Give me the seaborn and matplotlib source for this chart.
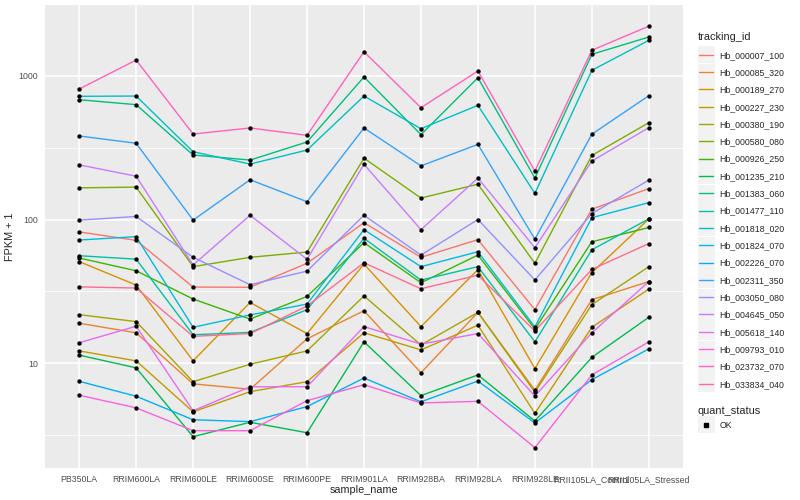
import matplotlib
matplotlib.use("Agg")
import matplotlib.pyplot as plt
from matplotlib.lines import Line2D
from matplotlib.patches import Rectangle
from matplotlib.legend_handler import HandlerBase
from matplotlib.ticker import FixedLocator, NullFormatter
import pandas as pd
import seaborn as sns

# ---------------------------------------------------------
# Data (FPKM + 1)
# ---------------------------------------------------------
samples = ['PB350LA', 'RRIM600LA', 'RRIM600LE', 'RRIM600SE', 'RRIM600PE',
           'RRIM901LA', 'RRIM928BA', 'RRIM928LA', 'RRIM928LE',
           'RRII105LA_Control', 'RRII105LA_Stressed']

tracking_ids = ['Hb_000007_100', 'Hb_000085_320', 'Hb_000189_270', 'Hb_000227_230',
                'Hb_000380_190', 'Hb_000580_080', 'Hb_000926_250', 'Hb_001235_210',
                'Hb_001383_060', 'Hb_001477_110', 'Hb_001818_020', 'Hb_001824_070',
                'Hb_002226_070', 'Hb_002311_350', 'Hb_003050_080', 'Hb_004645_050',
                'Hb_005618_140', 'Hb_009793_010', 'Hb_023732_070', 'Hb_033834_040']

hb_000007_100 = [82, 71.6, 33.9, 33.8, 49.6, 95, 54.6, 72.4, 23.6, 118, 164]
hb_000085_320 = [19, 16.3, 7.2, 6.6, 14.8, 23.2, 8.6, 22.6, 6.5, 27.7, 37]
hb_000189_270 = [51, 35, 10.4, 26.5, 16.1, 49, 18, 44.8, 9.2, 42.7, 101]
hb_000227_230 = [12.2, 10.4, 4.6, 6.35, 7.45, 16.3, 12.4, 18.4, 4.49, 17.8, 32.8]
hb_000380_190 = [21.8, 19.5, 7.45, 9.85, 12.2, 29.4, 13.4, 22.6, 6.3, 25.6, 47]
hb_000580_080 = [166, 168, 47, 54.6, 59.4, 267, 141, 176, 49.6, 279, 471]
hb_000926_250 = [54, 44, 28, 20.3, 29.2, 69, 36.3, 56.6, 17.3, 70, 88]
hb_001235_210 = [11.4, 9.3, 3.09, 3.89, 3.29, 14.1, 5.96, 8.3, 3.97, 11, 20.9]
hb_001383_060 = [681, 629, 281, 259, 346, 980, 389, 968, 194, 1409, 1857]
hb_001477_110 = [56, 53, 15.8, 16.4, 23.6, 74, 37.9, 47, 14.1, 61.6, 101]
hb_001818_020 = [719, 722, 296, 243, 304, 722, 428, 622, 152, 1090, 1762]
hb_001824_070 = [72, 76, 17.8, 21.7, 25.8, 85, 47, 59.7, 17.9, 103, 131]
hb_002226_070 = [7.5, 5.9, 4.05, 3.93, 5.0, 7.9, 5.4, 7.53, 3.85, 7.7, 12.6]
hb_002311_350 = [381, 339, 99, 189, 133, 433, 236, 333, 73, 392, 726]
hb_003050_080 = [99, 105, 54.6, 35.2, 43.8, 107, 56.6, 100, 38, 110, 188]
hb_004645_050 = [240, 200, 48.3, 107, 52.9, 242, 85, 194, 63.7, 255, 435]
hb_005618_140 = [13.9, 18.1, 4.68, 6.87, 6.87, 18, 13.6, 16.1, 5.93, 16.3, 37]
hb_009793_010 = [6.0, 4.9, 3.4, 3.4, 5.5, 7.1, 5.3, 5.44, 2.59, 8.3, 14.1]
hb_023732_070 = [808, 1285, 393, 433, 385, 1468, 599, 1078, 217, 1503, 2210]
hb_033834_040 = [34, 33.4, 15.4, 16.1, 25, 50, 33, 41, 16.8, 45, 68]

series_values = [hb_000007_100, hb_000085_320, hb_000189_270, hb_000227_230,
                 hb_000380_190, hb_000580_080, hb_000926_250, hb_001235_210,
                 hb_001383_060, hb_001477_110, hb_001818_020, hb_001824_070,
                 hb_002226_070, hb_002311_350, hb_003050_080, hb_004645_050,
                 hb_005618_140, hb_009793_010, hb_023732_070, hb_033834_040]

# ggplot2 default hue palette for 20 levels
palette = ['#F8766D', '#EA8331', '#D89000', '#C09B00', '#A3A500', '#7CAE00',
           '#39B600', '#00BB4E', '#00BF7D', '#00C1A3', '#00BFC4', '#00BAE0',
           '#00B0F6', '#35A2FF', '#9590FF', '#C77CFF', '#E76BF3', '#FA62DB',
           '#FF62BC', '#FF6C91']

rows = []
for tid, vals in zip(tracking_ids, series_values):
    for i, (s, v) in enumerate(zip(samples, vals)):
        rows.append({'tracking_id': tid, 'sample_name': s, 'pos': i,
                     'fpkm1': v, 'quant_status': 'OK'})
df = pd.DataFrame(rows)


# legend key with the grey ggplot box behind it
class KeyHandler(HandlerBase):
    def create_artists(self, legend, orig_handle, xdescent, ydescent,
                       width, height, fontsize, trans):
        cy = height / 2 - ydescent
        x0 = -xdescent
        box = Rectangle((x0, cy - width / 2), width, width,
                        facecolor='#F2F2F2', edgecolor='none', transform=trans)
        if orig_handle.get_marker() not in (None, '', 'None'):
            key = Line2D([x0 + width / 2], [cy], marker='s', linestyle='',
                         color='black', markersize=2.5, transform=trans)
        else:
            key = Line2D([x0 + 1, x0 + width - 1], [cy, cy],
                         color=orig_handle.get_color(), linewidth=1.0,
                         transform=trans)
        return [box, key]


# ---------------------------------------------------------
# Theme (ggplot2 grey look)
# ---------------------------------------------------------
sns.set_theme(style="darkgrid", rc={
    "axes.facecolor": "#EBEBEB",
    "figure.facecolor": "white",
    "grid.color": "white",
    "axes.edgecolor": "#EBEBEB",
})
plt.rcParams['font.family'] = ['Liberation Sans', 'DejaVu Sans']

fig = plt.figure(figsize=(8, 5), dpi=100)
ax = fig.add_axes([45 / 800, 1 - 468 / 500, (683 - 45) / 800, (468 - 5) / 500])

sns.lineplot(data=df, x='pos', y='fpkm1', hue='tracking_id',
             hue_order=tracking_ids, palette=palette, sort=False,
             linewidth=1.0, legend=False, ax=ax)
sns.scatterplot(data=df, x='pos', y='fpkm1', color='black', s=10,
                linewidth=0, legend=False, ax=ax, zorder=3)

ax.set_yscale('log')
ax.set_ylim(10 ** 0.272, 10 ** 3.4917)
ax.set_xlim(-0.6, len(samples) - 0.4)

ax.set_yticks([10, 100, 1000])
ax.set_yticklabels(['10', '100', '1000'])
ax.yaxis.set_minor_locator(FixedLocator([10 ** 0.5, 10 ** 1.5, 10 ** 2.5]))
ax.yaxis.set_minor_formatter(NullFormatter())
ax.set_xticks(range(len(samples)))
ax.set_xticklabels(samples)

ax.grid(which='major', color='white', linewidth=1.1)
ax.grid(which='minor', axis='y', color='white', linewidth=0.55)
ax.tick_params(which='major', length=3.5, width=0.8, color='#333333',
               labelsize=6.3, labelcolor='#4D4D4D', pad=1.5)
ax.tick_params(which='minor', length=0)
for sp in ax.spines.values():
    sp.set_visible(False)

ax.set_xlabel('sample_name', fontsize=7.8, labelpad=0.5)
ax.set_ylabel('FPKM + 1', fontsize=7.8, labelpad=2.5)

# ---------------------------------------------------------
# Legends
# ---------------------------------------------------------
id_handles = [Line2D([], [], color=c, linewidth=1.0) for c in palette]
leg1 = fig.legend(id_handles, tracking_ids, title='tracking_id',
                  loc='upper left', bbox_to_anchor=(694 / 800, 1 - 29 / 500),
                  frameon=False, fontsize=6.3, title_fontsize=7.9,
                  handlelength=1.95, handletextpad=0.55, labelspacing=0.95,
                  borderaxespad=0, alignment='left',
                  handler_map={Line2D: KeyHandler()})

ok_handle = [Line2D([], [], marker='s', color='black', linestyle='')]
leg2 = fig.legend(ok_handle, ['OK'], title='quant_status',
                  loc='upper left', bbox_to_anchor=(694 / 800, 1 - 403 / 500),
                  frameon=False, fontsize=6.3, title_fontsize=7.9,
                  handlelength=1.95, handletextpad=0.55,
                  borderaxespad=0, alignment='left',
                  handler_map={Line2D: KeyHandler()})

fig.savefig('out.png', dpi=100)
plt.close(fig)
